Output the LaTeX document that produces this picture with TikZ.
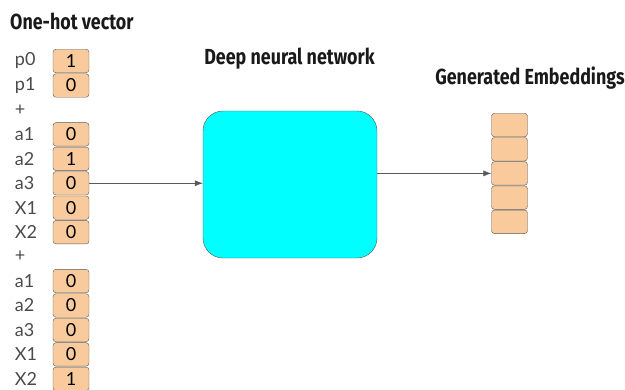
\documentclass[tikz,border=0pt]{standalone}
\usepackage{fontspec}
\setmainfont{Lato}
\newfontfamily\headfont[FakeStretch=0.82]{Fira Sans}
\usetikzlibrary{arrows.meta,positioning}
\definecolor{cellfill}{HTML}{F9CB9C}
\definecolor{linegray}{HTML}{595959}
\definecolor{lblgray}{HTML}{4A4A4A}
\definecolor{netfill}{HTML}{00FFFF}
\tikzstyle{arrow}=[draw=linegray,-{Latex[length=8pt,width=6pt]},semithick]
\tikzstyle{cell} =
  [rectangle, draw=linegray, fill=cellfill, rounded corners=3pt,
   minimum width=36pt, minimum height=23.5pt, inner sep=0pt,
   font=\fontsize{18}{18}\selectfont]
\tikzstyle{lbl} =
  [text width=22pt, align=left, inner sep=0pt, text=lblgray,
   font=\fontsize{18}{18}\selectfont]
\tikzstyle{title}=[text=black!90, inner sep=0pt,
   font=\headfont\bfseries\fontsize{21.8}{22}\selectfont]

\begin{document}
\begin{tikzpicture}[x=1pt, y=-1pt, node distance=24.45pt]
  \useasboundingbox (0,0) rectangle (625,389);
  \node [title, anchor=west] (t1) at (10,21) {One-hot vector};
  \node [title] (t2) at (289.5,59) {Deep neural network};
  \node [title] (t3) at (530,78) {Generated Embeddings};

  % one-hot cells
  \node [cell] (p0) at (71,61) {1};
  \node [cell, below of=p0] (p1) {0};
  \node [cell, below of=p1, node distance=48.9pt] (a1) {0};
  \node [cell, below of=a1] (a2) {1};
  \node [cell, below of=a2] (a3) {0};
  \node [cell, below of=a3] (x1) {0};
  \node [cell, below of=x1] (x2) {0};
  \node [cell, below of=x2, node distance=48.9pt] (b1) {0};
  \node [cell, below of=b1] (b2) {0};
  \node [cell, below of=b2] (b3) {0};
  \node [cell, below of=b3] (y1) {0};
  \node [cell, below of=y1] (y2) {1};

  % row labels
  \node [lbl, left of=p0, node distance=45pt] (lp0) {p0};
  \node [lbl, left of=p1, node distance=45pt] (lp1) {p1};
  \node [lbl, below of=lp1] (plus1) {+};
  \node [lbl, left of=a1, node distance=45pt] (la1) {a1};
  \node [lbl, left of=a2, node distance=45pt] (la2) {a2};
  \node [lbl, left of=a3, node distance=45pt] (la3) {a3};
  \node [lbl, left of=x1, node distance=45pt] (lx1) {X1};
  \node [lbl, left of=x2, node distance=45pt] (lx2) {X2};
  \node [lbl, below of=lx2] (plus2) {+};
  \node [lbl, left of=b1, node distance=45pt] (lb1) {a1};
  \node [lbl, left of=b2, node distance=45pt] (lb2) {a2};
  \node [lbl, left of=b3, node distance=45pt] (lb3) {a3};
  \node [lbl, left of=y1, node distance=45pt] (ly1) {X1};
  \node [lbl, left of=y2, node distance=45pt] (ly2) {X2};

  % network
  \node [draw=linegray, fill=netfill, rounded corners=20pt,
         minimum width=174pt, minimum height=147pt] (dnn) at (290,184.5) {};

  % embedding cells
  \node [cell] (e1) at (509.5,125) {};
  \node [cell, below of=e1, node distance=24.2pt] (e2) {};
  \node [cell, below of=e2, node distance=24.2pt] (e3) {};
  \node [cell, below of=e3, node distance=24.2pt] (e4) {};
  \node [cell, below of=e4, node distance=24.2pt] (e5) {};

  \draw [arrow] (a3.east) -- (a3.east -| dnn.west);
  \draw [arrow] (e3.west -| dnn.east) -- (e3.west);
\end{tikzpicture}
\end{document}
